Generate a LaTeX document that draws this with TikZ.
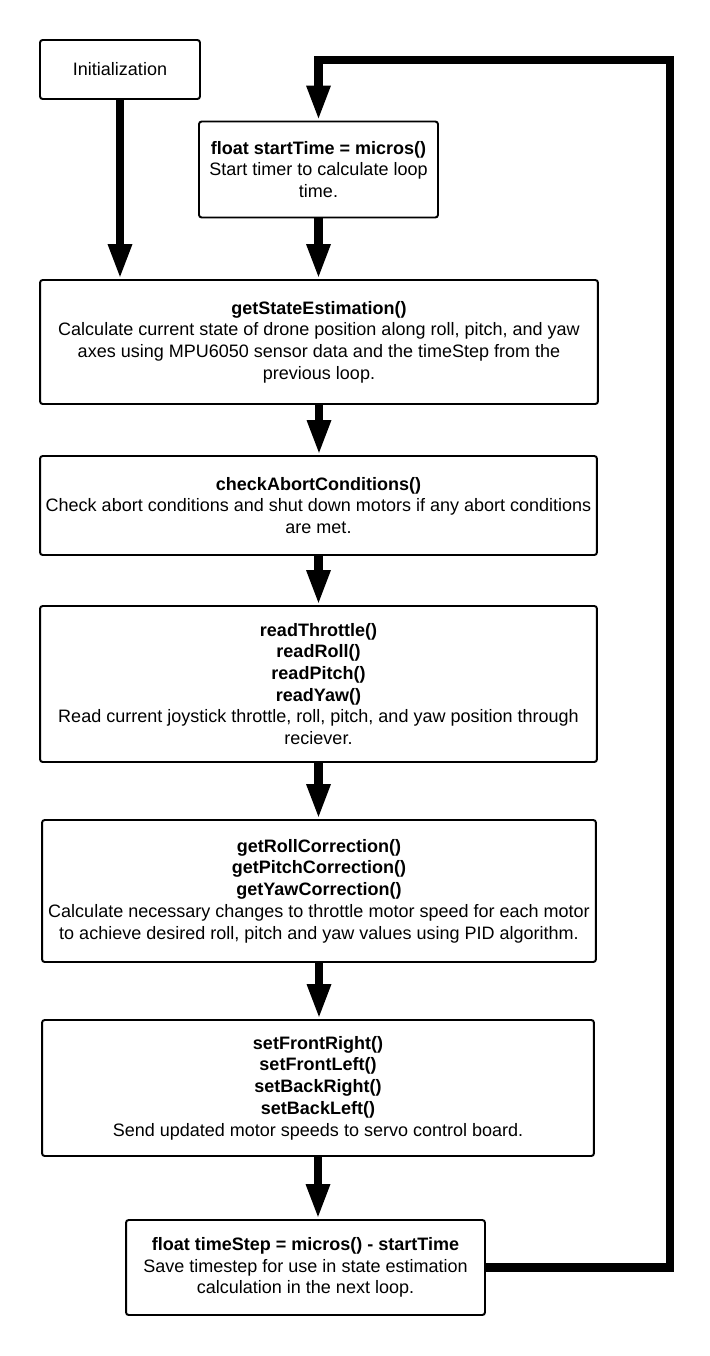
\documentclass[tikz,border=0pt]{standalone}
\usepackage{fontspec}
\setmainfont{Liberation Sans}
\usepackage{tikz}
\usetikzlibrary{arrows.meta, calc}

\begin{document}
\begin{tikzpicture}[x=0.02cm, y=-0.02cm,
        box/.style={draw, line width=1.1pt, rounded corners=1.5pt, align=center, inner sep=0pt,
            font=\fontsize{10.25}{12.35}\selectfont},
        flow/.style={line width=0.17cm, -{Triangle[width=0.44cm,length=0.7cm]}}]
        % Fix the page size
        \useasboundingbox (0,0) rectangle (710,1356);

        % Draw the boxes
        \node[box, minimum width=3.2cm, minimum height=1.18cm] (init) at (120,69.5) {Initialization};
        \node[box, minimum width=4.78cm, minimum height=1.92cm] (start) at (318.5,169.5)
            {\textbf{float startTime = micros()}\\Start timer to calculate loop\\time.};
        \node[box, minimum width=11.16cm, minimum height=2.48cm] (state) at (319,342)
            {\textbf{getStateEstimation()}\\Calculate current state of drone position along roll, pitch, and yaw\\axes using MPU6050 sensor data and the timeStep from the\\previous loop.};
        \node[box, minimum width=11.14cm, minimum height=1.98cm] (abort) at (318.5,505.5)
            {\textbf{checkAbortConditions()}\\Check abort conditions and shut down motors if any abort conditions\\are met.};
        \node[box, minimum width=11.14cm, minimum height=3.12cm] (read) at (318.5,684)
            {\textbf{readThrottle()}\\\textbf{readRoll()}\\\textbf{readPitch()}\\\textbf{readYaw()}\\Read current joystick throttle, roll, pitch, and yaw position through\\reciever.};
        \node[box, minimum width=11.08cm, minimum height=2.84cm] (corr) at (319,891)
            {\textbf{getRollCorrection()}\\\textbf{getPitchCorrection()}\\\textbf{getYawCorrection()}\\Calculate necessary changes to throttle motor speed for each motor\\to achieve desired roll, pitch and yaw values using PID algorithm.};
        \node[box, minimum width=11.04cm, minimum height=2.72cm] (motors) at (318,1088)
            {\textbf{setFrontRight()}\\\textbf{setFrontLeft()}\\\textbf{setBackRight()}\\\textbf{setBackLeft()}\\Send updated motor speeds to servo control board.};
        \node[box, minimum width=7.18cm, minimum height=1.9cm] (tstep) at (305.5,1267.5)
            {\textbf{float timeStep = micros() - startTime}\\Save timestep for use in state estimation\\calculation in the next loop.};

        % Draw the arrows down the chain
        \draw[flow] (init.south) -- (init.south |- state.north);
        \draw[flow] (start.south) -- (start.south |- state.north);
        \draw[flow] (state.south) -- (state.south |- abort.north);
        \draw[flow] (abort.south) -- (abort.south |- read.north);
        \draw[flow] (read.south) -- (read.south |- corr.north);
        \draw[flow] (corr.south) -- (corr.south |- motors.north);
        \draw[flow] (motors.south) -- (motors.south |- tstep.north);

        % Draw the loop back to the timer
        \coordinate (loop) at (670,60);
        \draw[flow] (tstep.east) -| (loop) -| (start.north);

    \end{tikzpicture}
\end{document}
